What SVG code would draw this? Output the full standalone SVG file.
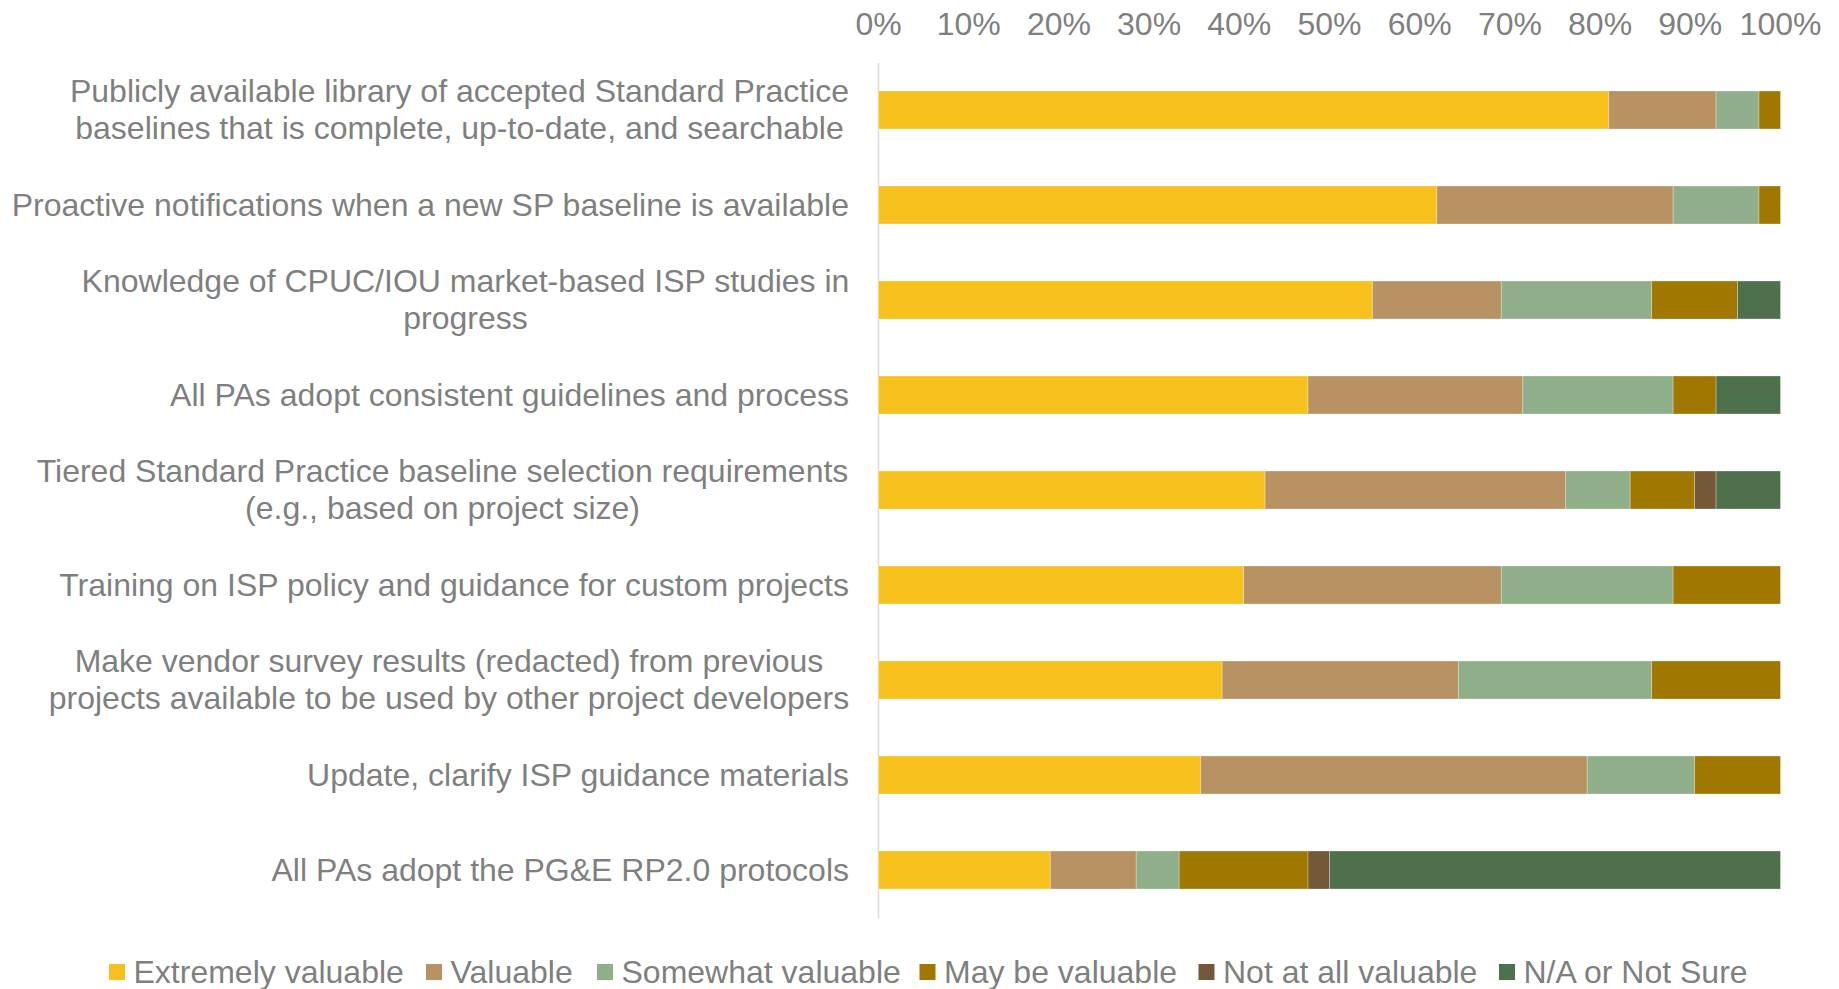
<svg xmlns="http://www.w3.org/2000/svg" width="1839" height="989" viewBox="0 0 1839 989">
<style>
text{font-family:"Liberation Sans",Arial,sans-serif;font-size:32px;fill:#7F7F7F}
.r{text-anchor:end}
.m{text-anchor:middle}
rect{stroke:#ffffff;stroke-opacity:0.35;stroke-width:0.8}
.c1{fill:#F6C11C}
.c2{fill:#B89262}
.c3{fill:#8FAF8B}
.c4{fill:#A07800}
.c5{fill:#735937}
.c6{fill:#4F704D}
.ax{stroke:#D9D9D9;stroke-width:1.5}
</style>
<rect x="0" y="0" width="1839" height="989" fill="#ffffff" style="stroke:none"/>
<g id="axis">
<line class="ax" x1="878.5" y1="63" x2="878.5" y2="918"/>
<text class="m" x="878.5" y="35">0%</text>
<text class="m" x="968.7" y="35">10%</text>
<text class="m" x="1058.9" y="35">20%</text>
<text class="m" x="1149.1" y="35">30%</text>
<text class="m" x="1239.3" y="35">40%</text>
<text class="m" x="1329.5" y="35">50%</text>
<text class="m" x="1419.7" y="35">60%</text>
<text class="m" x="1509.9" y="35">70%</text>
<text class="m" x="1600.1" y="35">80%</text>
<text class="m" x="1690.3" y="35">90%</text>
<text class="m" x="1780.5" y="35">100%</text>
</g>
<g id="row1">
<text class="m" x="459.5" y="102.4">Publicly available library of accepted Standard Practice</text>
<text class="m" x="459.5" y="139.2">baselines that is complete, up-to-date, and searchable</text>
<rect class="c1" x="878.5" y="91" width="730.19" height="38"/>
<rect class="c2" x="1608.69" y="91" width="107.38" height="38"/>
<rect class="c3" x="1716.07" y="91" width="42.95" height="38"/>
<rect class="c4" x="1759.02" y="91" width="21.48" height="38"/>
</g>
<g id="row2">
<text class="r" x="849" y="216">Proactive notifications when a new SP baseline is available</text>
<rect class="c1" x="878.5" y="186" width="558.38" height="38"/>
<rect class="c2" x="1436.88" y="186" width="236.24" height="38"/>
<rect class="c3" x="1673.12" y="186" width="85.9" height="38"/>
<rect class="c4" x="1759.02" y="186" width="21.48" height="38"/>
</g>
<g id="row3">
<text class="m" x="465.5" y="292.4">Knowledge of CPUC/IOU market-based ISP studies in</text>
<text class="m" x="465.5" y="329.2">progress</text>
<rect class="c1" x="878.5" y="281" width="493.95" height="38"/>
<rect class="c2" x="1372.45" y="281" width="128.86" height="38"/>
<rect class="c3" x="1501.31" y="281" width="150.33" height="38"/>
<rect class="c4" x="1651.64" y="281" width="85.91" height="38"/>
<rect class="c6" x="1737.55" y="281" width="42.95" height="38"/>
</g>
<g id="row4">
<text class="r" x="849" y="406">All PAs adopt consistent guidelines and process</text>
<rect class="c1" x="878.5" y="376" width="429.52" height="38"/>
<rect class="c2" x="1308.02" y="376" width="214.77" height="38"/>
<rect class="c3" x="1522.79" y="376" width="150.33" height="38"/>
<rect class="c4" x="1673.12" y="376" width="42.95" height="38"/>
<rect class="c6" x="1716.07" y="376" width="64.43" height="38"/>
</g>
<g id="row5">
<text class="m" x="442.5" y="482.4">Tiered Standard Practice baseline selection requirements</text>
<text class="m" x="442.5" y="519.2">(e.g., based on project size)</text>
<rect class="c1" x="878.5" y="471" width="386.57" height="38"/>
<rect class="c2" x="1265.07" y="471" width="300.67" height="38"/>
<rect class="c3" x="1565.74" y="471" width="64.43" height="38"/>
<rect class="c4" x="1630.17" y="471" width="64.43" height="38"/>
<rect class="c5" x="1694.6" y="471" width="21.47" height="38"/>
<rect class="c6" x="1716.07" y="471" width="64.43" height="38"/>
</g>
<g id="row6">
<text class="r" x="849" y="596">Training on ISP policy and guidance for custom projects</text>
<rect class="c1" x="878.5" y="566" width="365.09" height="38"/>
<rect class="c2" x="1243.59" y="566" width="257.72" height="38"/>
<rect class="c3" x="1501.31" y="566" width="171.81" height="38"/>
<rect class="c4" x="1673.12" y="566" width="107.38" height="38"/>
</g>
<g id="row7">
<text class="m" x="449" y="672.4">Make vendor survey results (redacted) from previous</text>
<text class="m" x="449" y="709.2">projects available to be used by other project developers</text>
<rect class="c1" x="878.5" y="661" width="343.62" height="38"/>
<rect class="c2" x="1222.12" y="661" width="236.24" height="38"/>
<rect class="c3" x="1458.36" y="661" width="193.28" height="38"/>
<rect class="c4" x="1651.64" y="661" width="128.86" height="38"/>
</g>
<g id="row8">
<text class="r" x="849" y="786">Update, clarify ISP guidance materials</text>
<rect class="c1" x="878.5" y="756" width="322.14" height="38"/>
<rect class="c2" x="1200.64" y="756" width="386.57" height="38"/>
<rect class="c3" x="1587.21" y="756" width="107.39" height="38"/>
<rect class="c4" x="1694.6" y="756" width="85.9" height="38"/>
</g>
<g id="row9">
<text class="r" x="849" y="881">All PAs adopt the PG&amp;E RP2.0 protocols</text>
<rect class="c1" x="878.5" y="851" width="171.81" height="38"/>
<rect class="c2" x="1050.31" y="851" width="85.9" height="38"/>
<rect class="c3" x="1136.21" y="851" width="42.95" height="38"/>
<rect class="c4" x="1179.16" y="851" width="128.86" height="38"/>
<rect class="c5" x="1308.02" y="851" width="21.48" height="38"/>
<rect class="c6" x="1329.5" y="851" width="451" height="38"/>
</g>
<g id="legend">
<rect class="c1" x="109" y="964" width="16" height="16" style="stroke:none"/>
<text x="133.5" y="983">Extremely valuable</text>
<rect class="c2" x="426" y="964" width="16" height="16" style="stroke:none"/>
<text x="450.5" y="983">Valuable</text>
<rect class="c3" x="597" y="964" width="16" height="16" style="stroke:none"/>
<text x="621.5" y="983">Somewhat valuable</text>
<rect class="c4" x="919.5" y="964" width="16" height="16" style="stroke:none"/>
<text x="944" y="983">May be valuable</text>
<rect class="c5" x="1198.5" y="964" width="16" height="16" style="stroke:none"/>
<text x="1223" y="983">Not at all valuable</text>
<rect class="c6" x="1499" y="964" width="16" height="16" style="stroke:none"/>
<text x="1523.5" y="983">N/A or Not Sure</text>
</g>
</svg>
